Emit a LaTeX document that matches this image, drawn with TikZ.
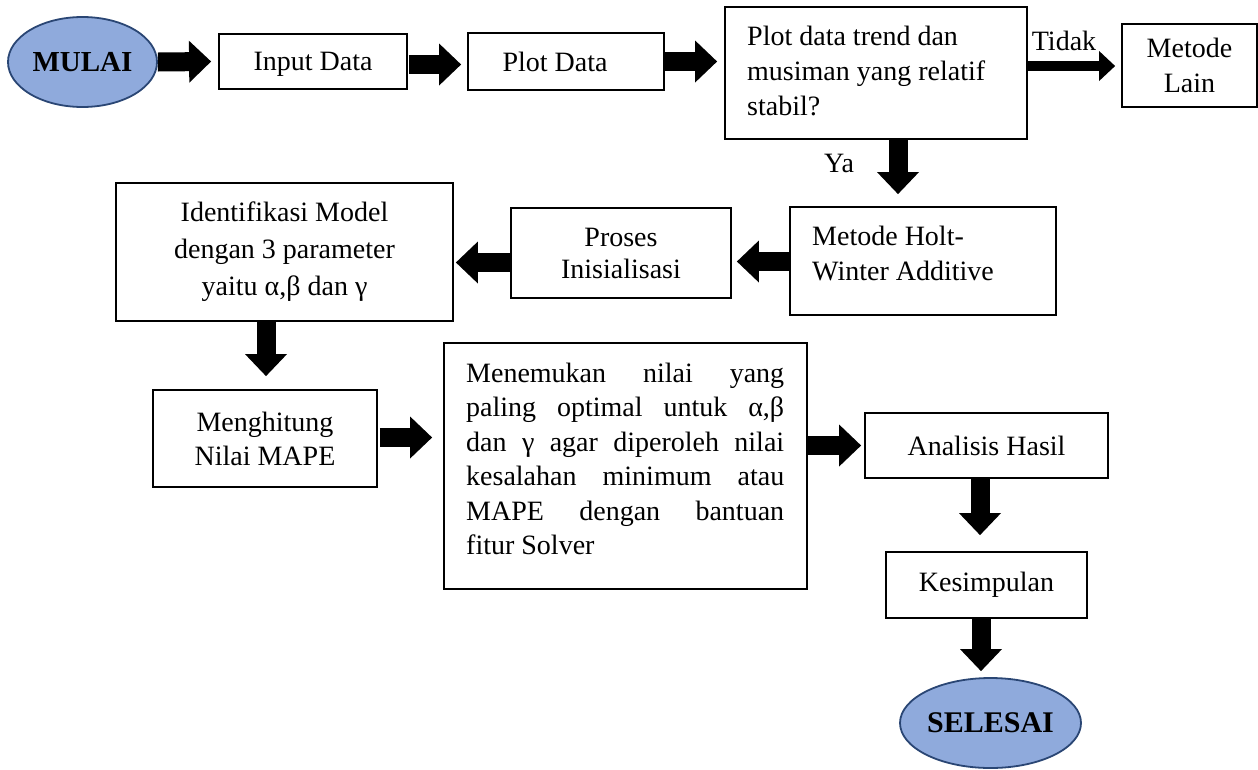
\documentclass[tikz,border=0pt]{standalone}
\usepackage{fontspec}
\setmainfont{Liberation Serif}
\usetikzlibrary{arrows.meta,shapes.geometric,calc}
\definecolor{ovfill}{HTML}{8FAADC}
\definecolor{ovline}{HTML}{2A4674}
\begin{document}
\begin{tikzpicture}[x=1pt,y=-1pt,
  every node/.style={font=\fontsize{28}{35}\selectfont},
  box/.style={draw=black, line width=1.8pt, fill=white, inner sep=0pt, align=center},
  oval/.style={ellipse, draw=ovline, line width=1.8pt, fill=ovfill, inner sep=0pt,
    font=\fontsize{29}{35}\selectfont\bfseries},
  fat/.style={line width=19pt, -{Triangle[length=22pt,width=42pt,line width=0pt]}},
  slim/.style={line width=10pt, -{Triangle[length=16pt,width=30pt,line width=0pt]}},
  txt/.style={inner sep=0pt, align=left}]
\useasboundingbox (0,0) rectangle (1258,769);

% nodes
\node[oval, minimum width=149pt, minimum height=90pt] (mulai) at (82.5,62) {MULAI};
\node[box, minimum width=188pt, minimum height=55pt, text depth=0pt] (input) at (313,61.5) {Input Data};
\node[box, minimum width=196pt, minimum height=57pt] (plot) at (566,61.5) {\hspace*{-22pt}Plot Data};
\node[box, minimum width=302pt, minimum height=132pt] (dec) at (876,73) {};
\node[txt, anchor=north west] (decT) at (747,26) {Plot data trend dan\\musiman yang relatif\\stabil?};
\node[box, minimum width=135pt, minimum height=83pt] (lain) at (1189.5,65.5) {Metode\\Lain};
\node[inner sep=0pt] (tidak) at (1064,41) {Tidak};
\node[inner sep=0pt] (ya) at (839,163) {Ya};

\node[box, minimum width=266pt, minimum height=108pt] (holt) at (923,261) {};
\node[txt, anchor=north west] (holtT) at (812,226) {Metode Holt-\\Winter Additive};
\node[box, minimum width=220pt, minimum height=90pt, font=\fontsize{28}{32}\selectfont] (proses) at (621,253) {Proses\\Inisialisasi};
\node[box, minimum width=337pt, minimum height=138pt, font=\fontsize{28}{37}\selectfont] (ident) at (284.5,252) {Identifikasi Model\\dengan 3 parameter\\yaitu α,β dan γ};

\node[box, minimum width=224pt, minimum height=97pt, font=\fontsize{28}{34}\selectfont] (hit) at (265,438.5) {Menghitung\\Nilai MAPE};
\node[box, minimum width=363pt, minimum height=246pt] (temu) at (625.5,466) {};
\node[txt, anchor=north west, font=\fontsize{28}{34.5}\selectfont] (temuT) at (466,362.5)
  {\makebox[318pt][s]{Menemukan nilai yang}\\
   \makebox[318pt][s]{paling optimal untuk α,β}\\
   \makebox[318pt][s]{dan γ agar diperoleh nilai}\\
   \makebox[318pt][s]{kesalahan minimum atau}\\
   \makebox[318pt][s]{MAPE dengan bantuan}\\
   fitur Solver};
\node[box, minimum width=243pt, minimum height=65pt] (anal) at (986.5,445.5) {Analisis Hasil};
\node[box, minimum width=201pt, minimum height=66pt] (kes) at (986.5,585) {Kesimpulan};
\node[oval, minimum width=181pt, minimum height=90pt, font=\fontsize{30}{35}\selectfont\bfseries] (sel) at (990.5,723) {SELESAI};

% connectors
\draw[fat] (mulai.east) -- ($(input.west)+(-7,0)$);
\draw[fat] ($(input.east)+(1,3)$) -- ($(plot.west)+(-6,3)$);
\draw[fat] (plot.east) -- ($(plot.east -| dec.west)+(-7,0)$);
\draw[slim] ($(dec.east)+(0,-7)$) -- ($(dec.east -| lain.west)+(-6,-7)$);
\draw[fat] ($(dec.south)+(22,0)$) -- ($(holt.north -| dec.south)+(22,-12)$);
\draw[fat] ($(holt.west)+(0,0.5)$) -- ($(holt.west -| proses.east)+(5,0.5)$);
\draw[fat] ($(proses.west)+(0,9.5)$) -- ($(proses.west -| ident.east)+(2,9.5)$);
\draw[fat] ($(ident.south)+(-18.5,0)$) -- ($(ident.south |- hit.north)+(-18.5,-13)$);
\draw[fat] ($(hit.east)+(2,-1)$) -- ($(hit.east -| temu.west)+(-11,-1)$);
\draw[fat] (temu.east |- anal.west) -- ($(anal.west)+(-3,0)$);
\draw[fat] ($(anal.south)+(-6.5,0)$) -- ($(anal.south |- kes.north)+(-6.5,-16)$);
\draw[fat] ($(kes.south)+(-5.5,0)$) -- ($(kes.south |- sel.north)+(-5.5,-6)$);
\end{tikzpicture}
\end{document}
